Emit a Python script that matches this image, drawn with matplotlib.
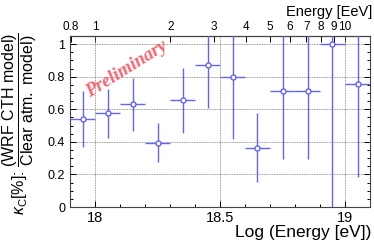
import numpy as np
import matplotlib
matplotlib.use('Agg')
import matplotlib.pyplot as plt
from matplotlib.ticker import MultipleLocator

plt.rcParams['font.family'] = ['Liberation Sans', 'DejaVu Sans']
plt.rcParams['mathtext.fontset'] = 'custom'
plt.rcParams['mathtext.rm'] = 'Liberation Sans'
plt.rcParams['mathtext.it'] = 'Liberation Sans:italic'

# Data (log10 of energy in eV, ratio and its error)
log_energy = [17.95, 18.05, 18.15, 18.25, 18.35, 18.45,
              18.55, 18.65, 18.75, 18.85, 18.95, 19.05]
bin_half_width = [0.05] * 12
kappa = [0.54, 0.575, 0.63, 0.395, 0.655, 0.875,
         0.80, 0.365, 0.715, 0.715, 1.00, 0.755]
kappa_err = [0.17, 0.15, 0.165, 0.12, 0.20, 0.265,
             0.38, 0.21, 0.42, 0.42, 1.05, 0.57]

top_ticks = [0.8, 1, 2, 3, 4, 5, 6, 7, 8, 9, 10]
top_labels = ['0.8', '1', '2', '3', '4', '5', '6', '7', '8', '9', '10']

blue = '#6262ff'

fig = plt.figure(figsize=(3.74, 2.52), dpi=100)
ax = fig.add_axes([70 / 374, 1 - 207 / 252, 300 / 374, 171 / 252])

ax.errorbar(log_energy, kappa, xerr=bin_half_width, yerr=kappa_err,
            fmt='o', color=blue, ecolor=blue, elinewidth=1.0, capsize=0,
            ms=3.6, mfc='white', mec=blue, mew=1.0, zorder=3)

ax.set_xlim(17.9, 19.1)
ax.set_ylim(0, 1.05)

# ROOT-like axes: inward ticks on all sides, dotted grid at majors
ax.xaxis.set_minor_locator(MultipleLocator(0.1))
ax.yaxis.set_minor_locator(MultipleLocator(0.05))
ax.set_xticks([18, 18.5, 19])
ax.set_xticklabels(['18', '18.5', '19'])
ax.set_yticks([0, 0.2, 0.4, 0.6, 0.8, 1.0])
ax.set_yticklabels(['0', '0.2', '0.4', '0.6', '0.8', '1'])
ax.tick_params(axis='x', which='both', direction='in', top=False,
               labelsize=10.5, pad=3)
ax.tick_params(axis='y', which='both', direction='in', right=True,
               labelsize=9, pad=3.5)
ax.tick_params(which='major', length=4.5, width=0.7)
ax.tick_params(which='minor', length=2.5, width=0.7)
ax.grid(True, which='major', color='#777777', linestyle=(0, (1, 1)),
        linewidth=0.6, zorder=0)
for s in ax.spines.values():
    s.set_linewidth(0.8)
    s.set_color('#444444')

secax = ax.secondary_xaxis(
    'top',
    functions=(lambda x: 10 ** (np.asarray(x) - 18),
               lambda e: np.log10(np.maximum(np.asarray(e, dtype=float), 1e-9)) + 18))
secax.set_xticks(top_ticks)
secax.set_xticklabels(top_labels)
secax.xaxis.set_minor_locator(matplotlib.ticker.NullLocator())
secax.tick_params(direction='in', length=4, width=0.7, labelsize=8.5, pad=2)

fig.text(372 / 374, 1 - 12 / 252, 'Energy [EeV]', ha='right', va='center',
         fontsize=10.5)
fig.text(371 / 374, 1 - 232 / 252, 'Log (Energy [eV])', ha='right',
         va='center', fontsize=12.5)

fig.text(20 / 374, 1 - 124 / 252,
         r'$\kappa_\mathrm{C}$[%]: $\dfrac{\mathrm{(WRF\ CTH\ model)}}{\mathrm{Clear\ atm.\ model)}}$',
         rotation=90, ha='center', va='center', fontsize=11.5)

ax.text(18.128, 0.845, 'Preliminary', rotation=32, ha='center', va='center',
        fontfamily='Liberation Serif', fontweight='bold', fontstyle='italic',
        fontsize=13.5, color='#ff4455', alpha=0.85, zorder=2)

fig.savefig('out.png', dpi=100)
